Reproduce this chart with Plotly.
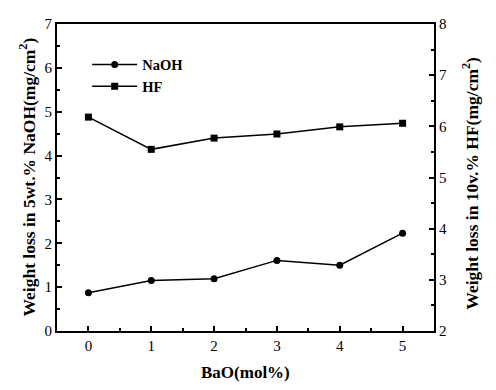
import plotly.graph_objects as go

bao = [0, 1, 2, 3, 4, 5]
naoh = [0.87, 1.15, 1.19, 1.61, 1.50, 2.23]
hf = [6.18, 5.55, 5.77, 5.85, 5.99, 6.06]

x_title = "<b>BaO(mol%)</b>"
y_title = "<b>Weight loss in 5wt.% NaOH(mg/cm<sup>2</sup>)</b>"
y2_title = "<b>Weight loss in 10v.% HF(mg/cm<sup>2</sup>)</b>"

font = dict(family="Liberation Serif, Times New Roman, serif", color="black")

fig = go.Figure()
fig.add_trace(go.Scatter(x=bao, y=naoh, name="NaOH", mode="lines+markers",
                         line=dict(color="black", width=1.5),
                         marker=dict(symbol="circle", size=7, color="black")))
fig.add_trace(go.Scatter(x=bao, y=hf, name="HF", mode="lines+markers", yaxis="y2",
                         line=dict(color="black", width=1.5),
                         marker=dict(symbol="square", size=7, color="black")))

axis_common = dict(showline=True, linecolor="black", linewidth=2, ticks="inside",
                   ticklen=5, tickwidth=1.5, tickcolor="black", showgrid=False,
                   zeroline=False, tickfont=dict(size=15, **font), automargin=False,
                   minor=dict(ticks="inside", ticklen=3, tickwidth=1.5, tickcolor="black", dtick=0.5))

# The page body has an 8px default margin, so the figure is sized to fit the window.
fig.update_layout(
    width=488, height=382,
    margin=dict(l=49, r=62, t=16, b=59),
    paper_bgcolor="white", plot_bgcolor="white",
    font=dict(size=14, **font),
    showlegend=True,
    legend=dict(x=0.08, y=0.92, xanchor="left", yanchor="top", bgcolor="rgba(0,0,0,0)",
                font=dict(size=14.5, family=font["family"], color="black", weight="bold"),
                tracegroupgap=2, itemwidth=45),
    xaxis=dict(range=[-0.5, 5.5], dtick=1, mirror=True, **axis_common),
    yaxis=dict(range=[0, 7], dtick=1, **axis_common),
    yaxis2=dict(range=[2, 8], dtick=1, overlaying="y", side="right", **axis_common),
    annotations=[
        dict(text=x_title, xref="paper", yref="paper", x=0.5, y=0, yanchor="middle",
             yshift=-41, showarrow=False, font=dict(size=17, **font)),
        dict(text=y_title, xref="paper", yref="paper", x=0, y=0.5, xanchor="center",
             xshift=-30, textangle=-90, showarrow=False, font=dict(size=17.5, **font)),
        dict(text=y2_title, xref="paper", yref="paper", x=1, y=0.48, xanchor="center",
             xshift=36, textangle=-90, showarrow=False, font=dict(size=17.5, **font)),
    ],
)

fig.write_html("out.html")
